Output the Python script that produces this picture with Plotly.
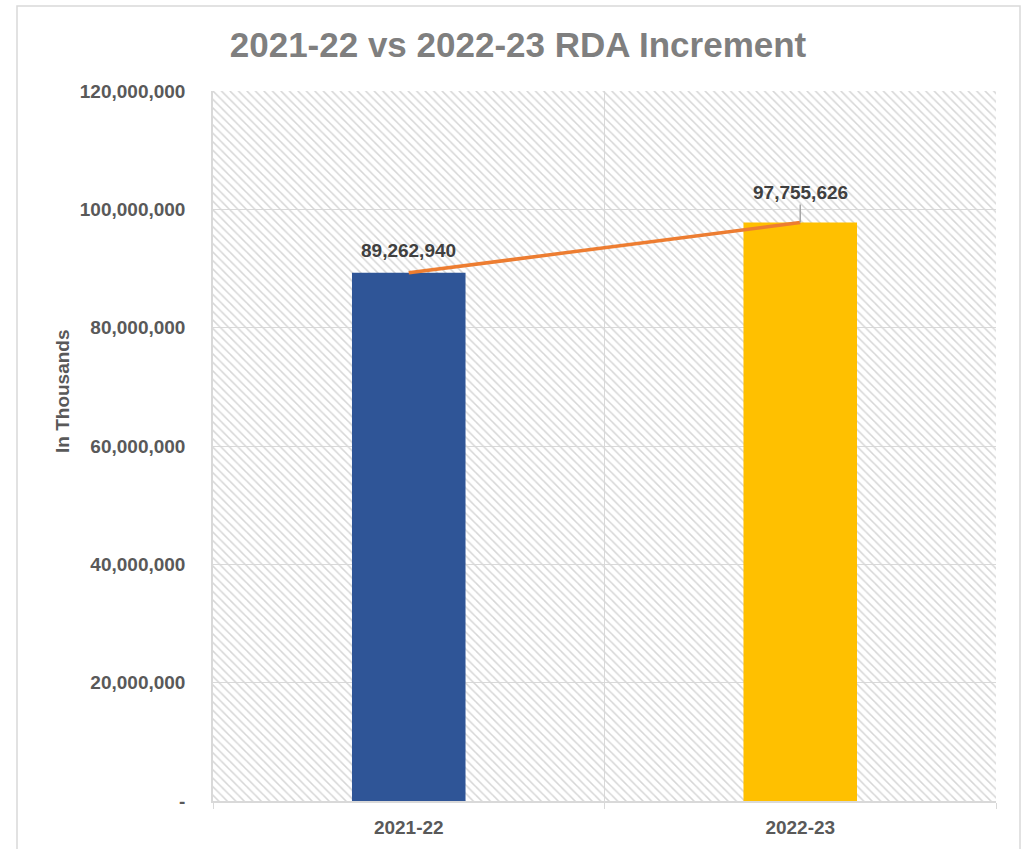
import plotly.graph_objects as go

# Fiscal years and RDA totals (in thousands)
years = ["2021-22", "2022-23"]
rda_values = [89262940, 97755626]
bar_colors = ["#2F5597", "#FFC000"]

# Y-axis ticks
y_tickvals = [0, 20000000, 40000000, 60000000, 80000000, 100000000, 120000000]
y_ticktext = ["-", "20,000,000", "40,000,000", "60,000,000",
              "80,000,000", "100,000,000", "120,000,000"]

# Vertical offset (px) of each value label above its point
label_offsets = [-22, -30]
label_leaders = [False, True]

FONT = "Liberation Sans, Arial, sans-serif"
GRID = "#d9d9d9"

fig = go.Figure()

# Hatched plot background on a hidden unit axis pair underneath the data axes
fig.add_trace(go.Bar(
    x=[0.5], y=[1], width=[1], base=[0],
    xaxis="x", yaxis="y",
    marker=dict(color="#d6d6d6", line=dict(width=0),
                pattern=dict(shape="\\", size=6, solidity=0.25, fillmode="replace")),
    hoverinfo="skip", showlegend=False,
))

# Bars
fig.add_trace(go.Bar(
    x=years, y=rda_values, xaxis="x2", yaxis="y2",
    marker=dict(color=bar_colors, line=dict(width=0)),
    showlegend=False,
))

# Increment line joining the bar tops
fig.add_trace(go.Scatter(
    x=years, y=rda_values, xaxis="x2", yaxis="y2",
    mode="lines", line=dict(color="#ED7D31", width=3.5),
    showlegend=False,
))

# Value labels
for yr, val, off, leader in zip(years, rda_values, label_offsets, label_leaders):
    fig.add_annotation(
        x=yr, y=val, xref="x2", yref="y2",
        text=f"{val:,}",
        showarrow=leader, arrowhead=0, arrowwidth=1.5, arrowcolor="#a6a6a6",
        ax=0, ay=off, standoff=0,
        yshift=0 if leader else -off,
        yanchor="middle",
        font=dict(family=FONT, size=19, color="#404040", weight="bold"),
    )

# Y-axis title
fig.add_annotation(
    text="In Thousands", textangle=-90, showarrow=False,
    xref="paper", yref="paper",
    x=(62 - 213) / 783, y=(801 - 391) / 710,
    xanchor="center", yanchor="middle",
    font=dict(family=FONT, size=19, color="#595959", weight="bold"),
)

# Chart frame
fig.add_shape(
    type="rect", xref="paper", yref="paper",
    x0=(17 - 213) / 783, x1=(1020 - 213) / 783,
    y0=(801 - 860) / 710, y1=(801 - 6) / 710,
    line=dict(color=GRID, width=1.5), fillcolor="rgba(0,0,0,0)", layer="below",
)

fig.update_layout(
    width=1023, height=849,
    margin=dict(l=213, r=27, t=91, b=48),
    paper_bgcolor="white", plot_bgcolor="white",
    bargap=0.71,
    title=dict(
        text="2021-22 vs 2022-23 RDA Increment",
        x=518 / 1023, xref="container", xanchor="center",
        y=1 - 45 / 849, yref="container", yanchor="middle",
        font=dict(family=FONT, size=35, color="#7F7F7F", weight="bold"),
    ),
    xaxis=dict(range=[0, 1], visible=False, fixedrange=True),
    yaxis=dict(range=[0, 1], visible=False, fixedrange=True),
    xaxis2=dict(
        overlaying="x", anchor="y2", type="category",
        tickson="boundaries", ticks="outside", ticklen=6, tickcolor=GRID,
        showgrid=True, gridcolor=GRID, gridwidth=1,
        showline=True, linecolor=GRID, linewidth=1.5,
        tickfont=dict(family=FONT, size=19, color="#595959", weight="bold"),
        ticklabelstandoff=8, automargin=False,
    ),
    yaxis2=dict(
        overlaying="y", anchor="x2", side="left",
        range=[0, 120000000], tickvals=y_tickvals, ticktext=y_ticktext,
        showgrid=True, gridcolor=GRID, gridwidth=1, zeroline=False,
        showline=True, linecolor=GRID, linewidth=1.5,
        tickfont=dict(family=FONT, size=19, color="#595959", weight="bold"),
        ticklabelstandoff=22, automargin=False,
    ),
)

fig.write_html("out.html")
